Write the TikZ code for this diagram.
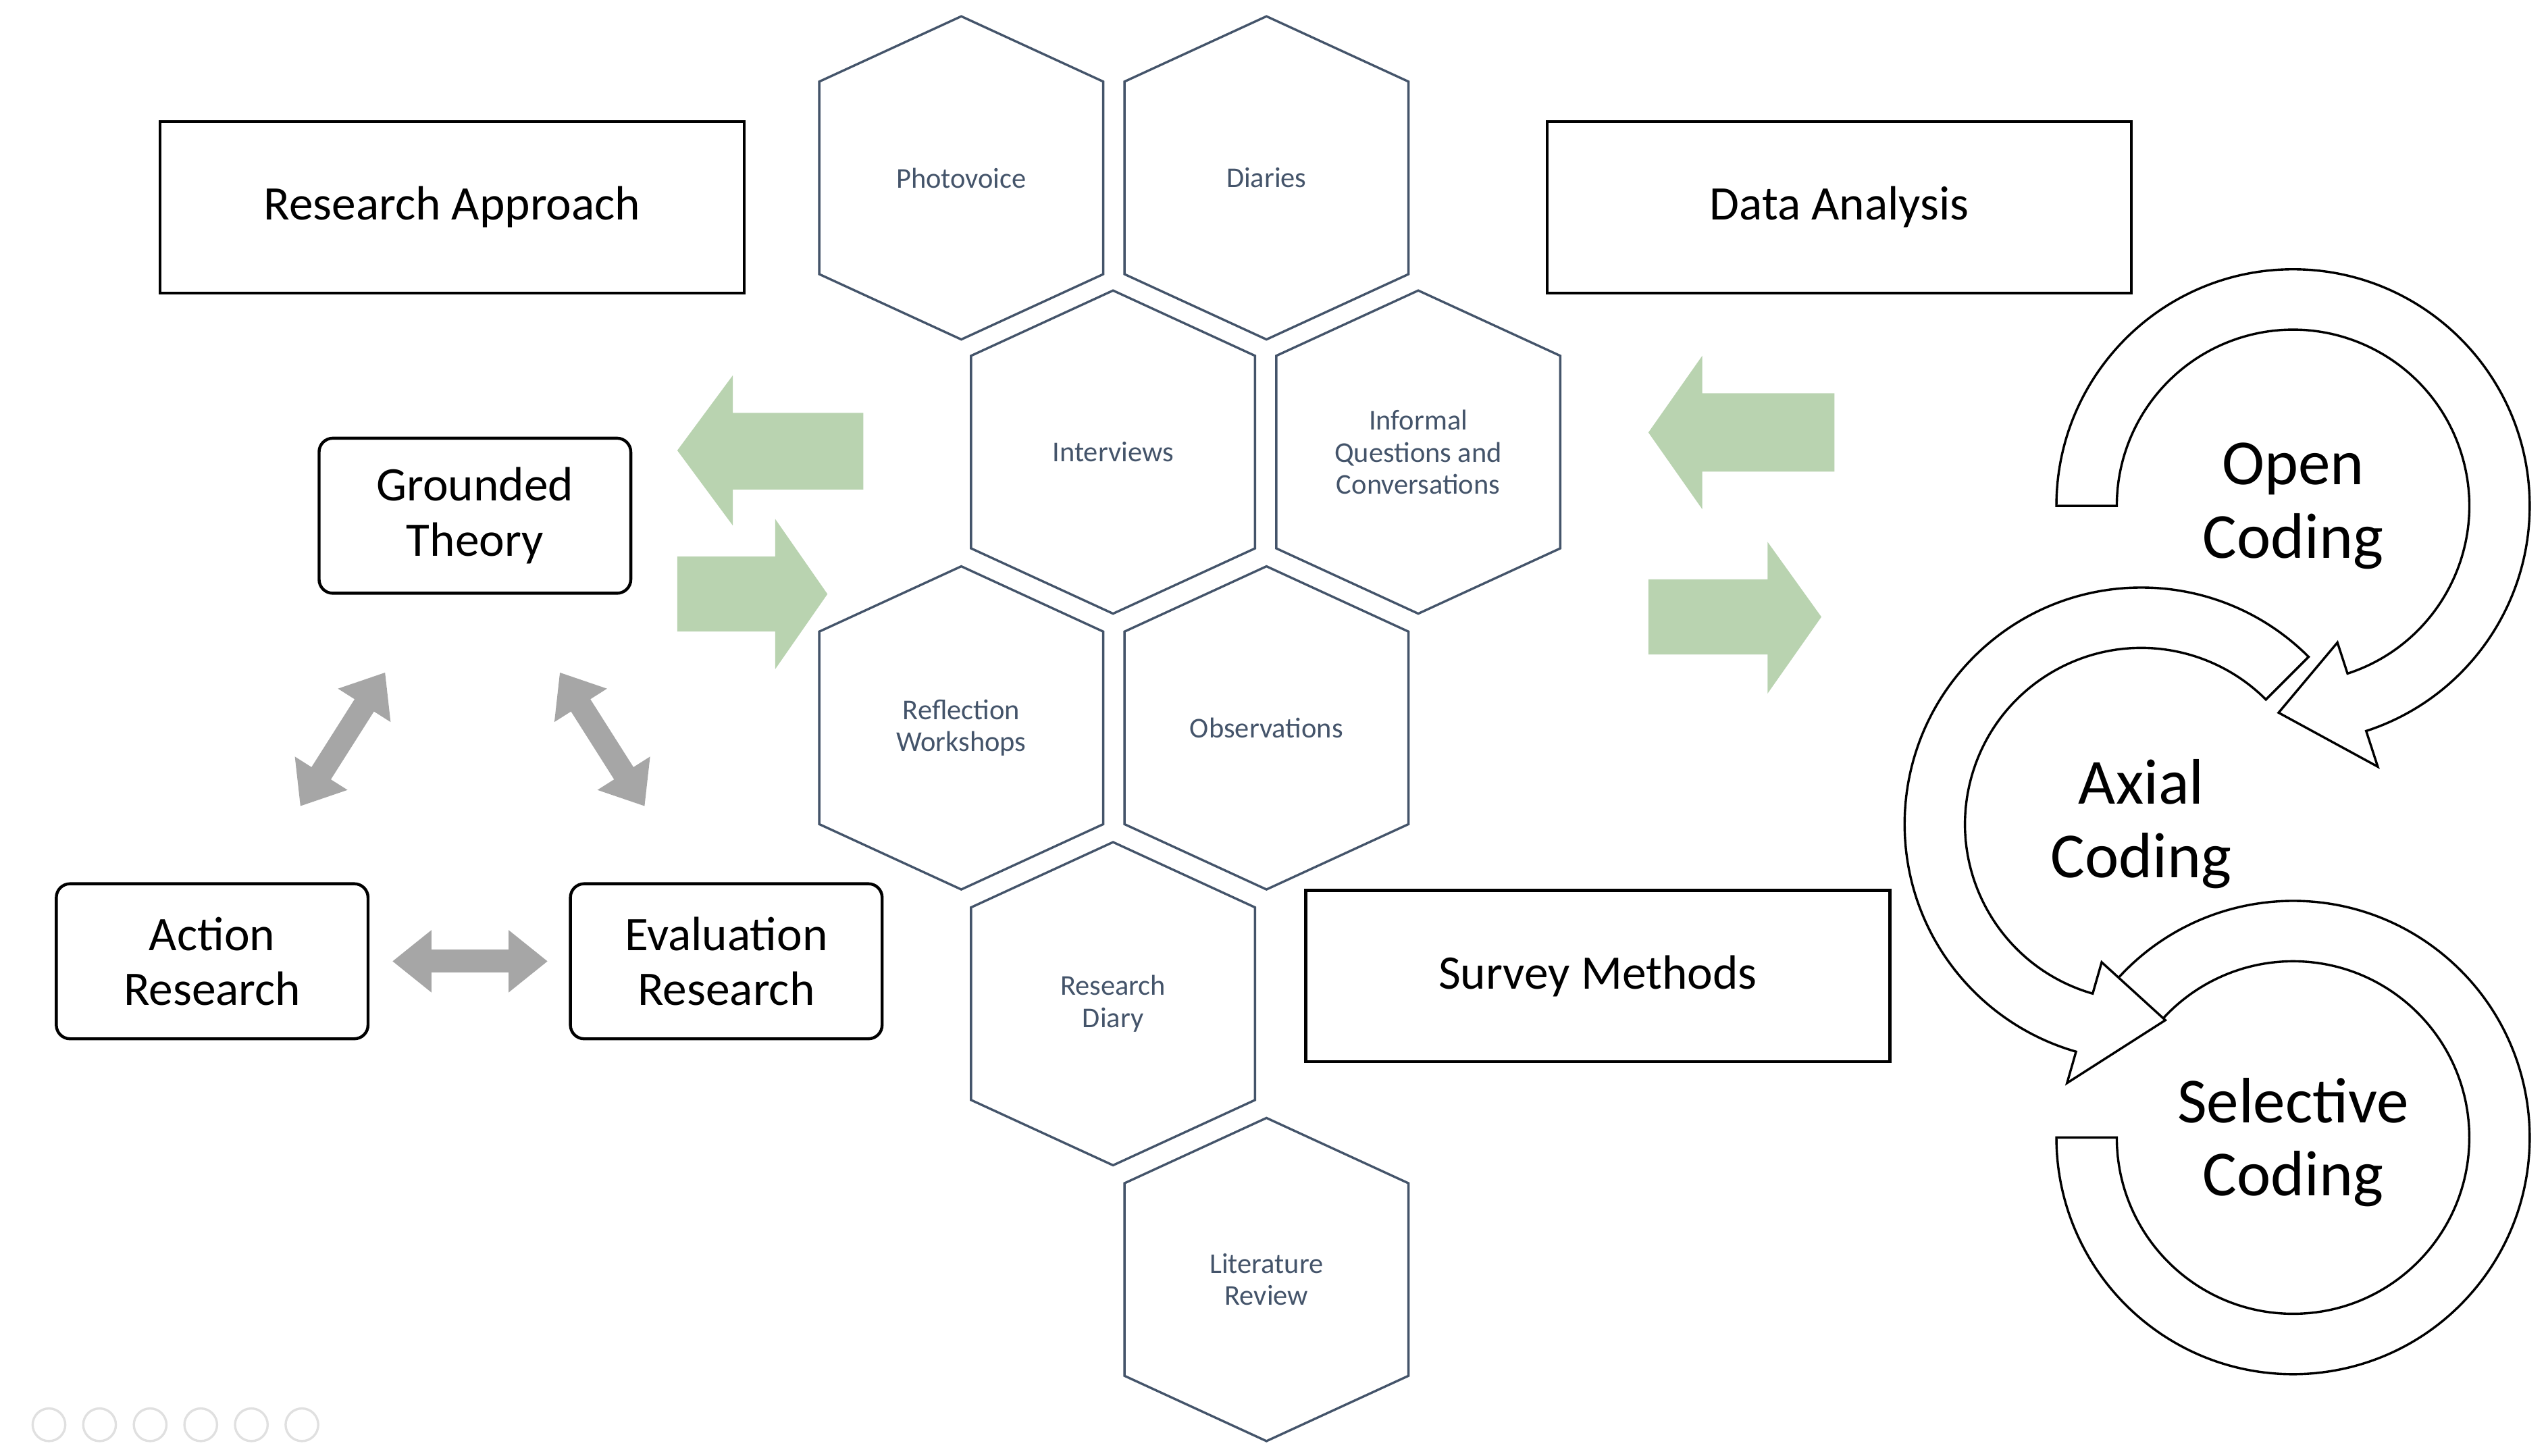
\documentclass[tikz,border=0pt]{standalone}
\usepackage{fontspec}
\setmainfont{Carlito}
\usetikzlibrary{arrows.meta}
\definecolor{hexc}{HTML}{44546A}
\definecolor{grn}{HTML}{B9D3B0}
\definecolor{gry}{HTML}{A6A6A6}
\tikzset{
 box/.style={draw=black,line width=1.3pt,minimum width=358*0.025cm,minimum height=105*0.025cm,font=\fontsize{21}{25}\selectfont},
 rbox/.style={draw=black,line width=1.3pt,rounded corners=6pt,minimum width=191*0.025cm,minimum height=95*0.025cm,align=center,font=\fontsize{21}{24}\selectfont},
 hext/.style={text=hexc,align=center,font=\fontsize{12.5}{14}\selectfont},
 hexl/.style={draw=hexc,line width=1pt},
 garr/.style={gry,line width=10pt,{Triangle[length=17pt,width=26pt]}-{Triangle[length=17pt,width=26pt]}},
 ring/.style={draw=black,line width=1pt,fill=white},
 ct/.style={align=center,font=\fontsize{28}{32}\selectfont},
}
\newcommand{\myhex}[4]{\node[hext] (#1) at (#2,#3) {#4};
 \draw[hexl] (#2,#3) ++(0,-99) -- ++(87,40) -- ++(0,118) -- ++(-87,40) -- ++(-87,-40) -- ++(0,-118) -- cycle;}
\begin{document}
\begin{tikzpicture}[x=0.025cm,y=-0.025cm]
\useasboundingbox (0,0) rectangle (1560,892);
% boxes
\node[box] (ra) at (277,127) {Research Approach};
\node[box] (da) at (1127,127) {Data Analysis};
\node[box] (sm) at (979,598) {Survey Methods};
\node[rbox] (gt) at (291,316) {Grounded\\Theory};
\node[rbox] (ar) at (130,589) {Action\\Research};
\node[rbox] (er) at (445,589) {Evaluation\\Research};
% grey arrows
\coordinate (g1) at (236,412); \coordinate (a1) at (184,494);
\coordinate (g2) at (343,412); \coordinate (e2) at (395,494);
\draw[garr] (g1) -- (a1);
\draw[garr] (g2) -- (e2);
\draw[garr,shorten <=14*0.025cm,shorten >=13*0.025cm] (ar) -- (er);
% hexagons
\myhex{pv}{589}{109}{Photovoice}
\myhex{di}{776}{109}{Diaries}
\myhex{iv}{682}{277}{Interviews}
\myhex{iq}{869}{277}{Informal\\Questions and\\Conversations}
\myhex{rw}{589}{446}{Reflection\\Workshops}
\myhex{ob}{776}{446}{Observations}
\myhex{rd}{682}{615}{Research\\Diary}
\myhex{lr}{776}{784}{Literature\\Review}
% green arrows
\fill[grn] (415,276) -- (449,230) -- (449,253) -- (529,253) -- (529,300) -- (449,300) -- (449,322) -- cycle;
\fill[grn] (507,364) -- (475,318) -- (475,341) -- (415,341) -- (415,387) -- (475,387) -- (475,410) -- cycle;
\fill[grn] (1010,265) -- (1043,218) -- (1043,241) -- (1124,241) -- (1124,289) -- (1043,289) -- (1043,312) -- cycle;
\fill[grn] (1116,378) -- (1083,332) -- (1083,355) -- (1010,355) -- (1010,401) -- (1083,401) -- (1083,425) -- cycle;
% coding cycle
\coordinate (oc) at (1405,310);
\coordinate (ac) at (1312,505);
\coordinate (sc) at (1405,697);
\begin{scope}[y=0.025cm]
\draw[ring] (sc) ++(140:145) arc[start angle=140,end angle=-180,radius=145]
  -- ([shift={(180:108)}]sc) arc[start angle=-180,end angle=140,radius=108] -- cycle;
\draw[ring] (ac) ++(45:145) arc[start angle=45,end angle=254,radius=145]
  -- ([shift={(254:165)}]ac) -- ([shift={(277:121)}]ac) -- ([shift={(254:88)}]ac) -- ([shift={(254:108)}]ac)
  arc[start angle=254,end angle=45,radius=108] -- cycle;
\draw[ring] (oc) ++(180:145) arc[start angle=180,end angle=-72,radius=145]
  -- ([shift={(-72:168)}]oc) -- ([shift={(-94:127)}]oc) -- ([shift={(-72:88)}]oc) -- ([shift={(-72:108)}]oc)
  arc[start angle=-72,end angle=180,radius=108] -- cycle;
\end{scope}
\node[ct] (oct) at (1405,310) {Open\\Coding};
\node[ct] (act) at (1312,505) {Axial\\Coding};
\node[ct] (sct) at (1405,700) {Selective\\Coding};
% toolbar
\foreach \i/\xx in {1/30,2/61,3/92,4/123,5/154,6/185}{\draw[black!12,line width=1pt] (\xx,873) circle (10);}
\end{tikzpicture}
\end{document}
